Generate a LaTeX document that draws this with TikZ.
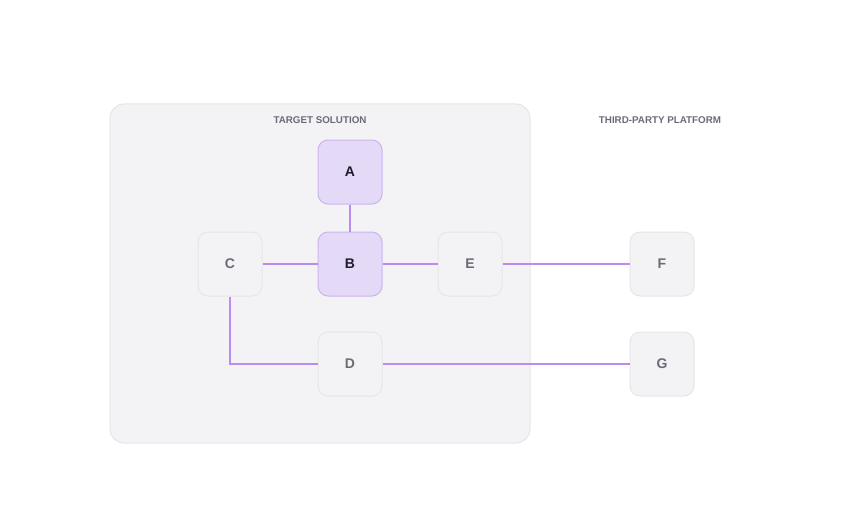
\documentclass[tikz,border=0pt]{standalone}
\usepackage{fontspec}
\setmainfont{Liberation Sans}
\definecolor{panelfill}{HTML}{F3F3F5}
\definecolor{panelline}{HTML}{E6E6EA}
\definecolor{purplefill}{HTML}{E4D9F7}
\definecolor{purpleline}{HTML}{CDB4F0}
\definecolor{edgecol}{HTML}{B88CF0}
\definecolor{darktext}{HTML}{1F1B2E}
\definecolor{graytext}{HTML}{6B6B78}
\begin{document}
\begin{tikzpicture}[x=1pt,y=-1pt,
  box/.style={rounded corners=10pt, minimum width=64pt, minimum height=64pt, inner sep=0pt, line width=1pt, font=\fontsize{14}{16}\selectfont\bfseries},
  grayn/.style={box, fill=panelfill, draw=panelline, text=graytext},
  purpn/.style={box, fill=purplefill, draw=purpleline, text=darktext},
  edge/.style={draw=edgecol, line width=1.6pt},
  title/.style={font=\fontsize{9.8}{11}\selectfont\bfseries, text=graytext}]
\useasboundingbox (0,0) rectangle (860,511);
\draw[fill=panelfill, draw=panelline, line width=1pt, rounded corners=14pt] (110,104) rectangle (530,443);
\node[title] (t1) at (320,120) {TARGET SOLUTION};
\node[title] (t2) at (660,120) {THIRD-PARTY PLATFORM};
\node[purpn] (A) at (350,172) {A};
\node[purpn] (B) at (350,264) {B};
\node[grayn] (C) at (230,264) {C};
\node[grayn] (E) at (470,264) {E};
\node[grayn] (D) at (350,364) {D};
\node[grayn] (F) at (662,264) {F};
\node[grayn] (G) at (662,364) {G};
\draw[edge] (A) -- (B);
\draw[edge] (C) -- (B);
\draw[edge] (B) -- (E);
\draw[edge] (E) -- (F);
\draw[edge] (C.south) |- (D.west);
\draw[edge] (D) -- (G);
\end{tikzpicture}
\end{document}
